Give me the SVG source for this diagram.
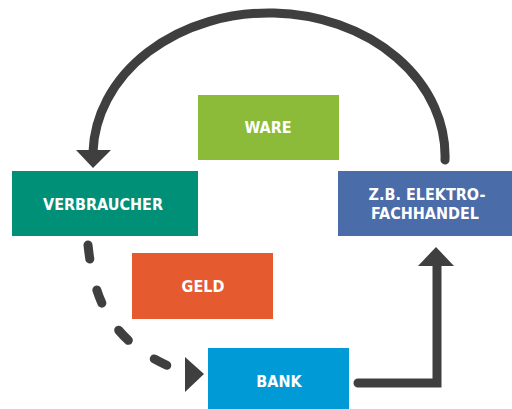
<svg xmlns="http://www.w3.org/2000/svg" width="512" height="409" viewBox="0 0 512 409">
<style>
.lbl{font-family:"DejaVu Sans Condensed","DejaVu Sans",sans-serif;font-stretch:condensed;font-weight:bold;font-size:16px;fill:#ffffff;text-anchor:middle}
.ln{fill:none;stroke:#3f3f3f;stroke-width:9;stroke-linecap:round}
.hd{fill:#3f3f3f}
</style>
<rect width="512" height="409" fill="#ffffff"/>
<g id="connectors">
<path class="ln" d="M445,160 A176,143 0 0 0 93,152"/>
<polygon class="hd" points="76,150 111,150 93,168"/>
<path class="ln" d="M88,245 C94,300 110,345 183,372" stroke-dasharray="14,32"/>
<polygon class="hd" points="185,357 204,374 185,392"/>
<path class="ln" d="M358,383 H437 V262"/>
<polygon class="hd" points="418,266 454,266 436,247"/>
</g>
<g id="ware"><rect x="198" y="95" width="141" height="65" fill="#8cbb3a"/><text class="lbl" x="268" y="133">WARE</text></g>
<g id="verbraucher"><rect x="12" y="171" width="186" height="65" fill="#008f77"/><text class="lbl" x="103" y="210">VERBRAUCHER</text></g>
<g id="handel"><rect x="338" y="171" width="174" height="65" fill="#4a6ca8"/><text class="lbl" x="427" y="200">Z.B. ELEKTRO-</text><text class="lbl" x="425" y="219">FACHHANDEL</text></g>
<g id="geld"><rect x="132" y="253" width="141" height="66" fill="#e55a2f"/><text class="lbl" x="203" y="292">GELD</text></g>
<g id="bank"><rect x="208" y="348" width="141" height="61" fill="#009ad6"/><text class="lbl" x="279" y="387">BANK</text></g>
</svg>
